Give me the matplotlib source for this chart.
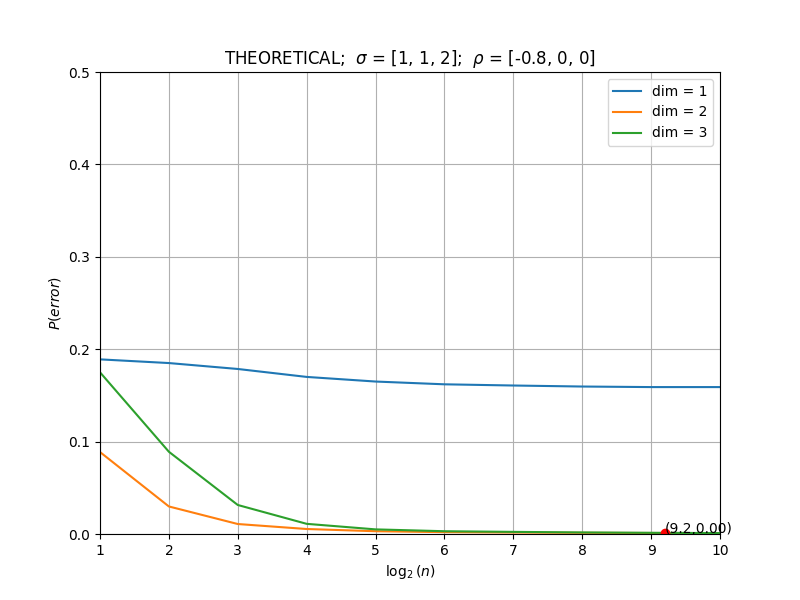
import numpy as np
import matplotlib
matplotlib.use("Agg")
from matplotlib import pyplot as plt

# log2(n) steps
log_n = [1, 2, 3, 4, 5, 6, 7, 8, 9, 10]

# error probability per dimension
p_dim1 = [0.189, 0.185, 0.1786, 0.170, 0.165, 0.162, 0.1607, 0.1596, 0.159, 0.159]
p_dim2 = [0.0887, 0.0298, 0.0108, 0.0054, 0.003, 0.002, 0.0016, 0.0013, 0.0011, 0.001]
p_dim3 = [0.175, 0.089, 0.0314, 0.011, 0.005, 0.003, 0.0023, 0.0017, 0.0013, 0.001]

marker_x, marker_y = 9.2, 0.0015

fig, ax = plt.subplots(figsize=(8, 6), dpi=100)
ax.plot(log_n, p_dim1, label="dim = 1")
ax.plot(log_n, p_dim2, label="dim = 2")
ax.plot(log_n, p_dim3, label="dim = 3")

ax.plot(marker_x, marker_y, "ro")
ax.annotate(f"({marker_x:.1f},{marker_y:.2f})", (marker_x, marker_y))

ax.set_xlim(1, 10)
ax.set_ylim(0, 0.5)
ax.set_xlabel(r"$\log_2(n)$")
ax.set_ylabel(r"$P(error)$")
ax.set_title(r"THEORETICAL;  $\sigma$ = [1, 1, 2];  $\rho$ = [-0.8, 0, 0]")
ax.grid(True)
ax.legend(loc="upper right")

fig.savefig("out.png")
